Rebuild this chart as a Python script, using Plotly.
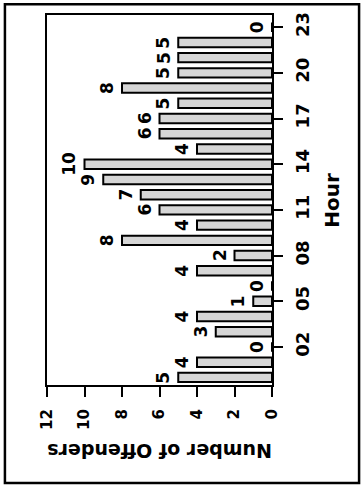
import plotly.graph_objects as go

# Offenders counted per hour of the day
hours = list(range(24))
offenders = [5, 4, 0, 3, 4, 1, 0, 4, 2, 8, 4, 6, 7, 9, 10, 4, 6, 6, 5, 8, 5, 5, 5, 0]

hour_ticks = [2, 5, 8, 11, 14, 17, 20, 23]
hour_tick_text = ["02", "05", "08", "11", "14", "17", "20", "23"]
count_ticks = [0, 2, 4, 6, 8, 10, 12]

FONT = "DejaVu Sans, Verdana, sans-serif"

fig = go.Figure()
fig.add_trace(go.Bar(
    x=offenders,
    y=hours,
    orientation="h",
    width=0.62,
    marker=dict(color="#d6d6d6", line=dict(color="black", width=2)),
    cliponaxis=False,
    showlegend=False,
))

# value labels just past the end of each bar (zero bars included)
value_labels = [
    dict(
        text=str(v),
        xref="x", yref="y",
        x=v, y=h,
        xanchor="right", yanchor="middle",
        xshift=-3,
        showarrow=False,
        textangle=-90,
        font=dict(size=17, family=FONT, color="black", weight="bold"),
    )
    for h, v in zip(hours, offenders)
]

fig.update_layout(
    width=362,
    height=490,
    margin=dict(l=47, r=90, t=12, b=105),
    paper_bgcolor="white",
    plot_bgcolor="white",
    font=dict(family=FONT, color="black"),
    xaxis=dict(
        range=[12, 0],
        tickvals=count_ticks,
        tickangle=-90,
        ticks="outside",
        ticklen=10,
        tickwidth=1.5,
        tickcolor="black",
        ticklabelstandoff=6,
        tickfont=dict(size=15, family=FONT, weight="bold"),
        showline=True,
        linecolor="black",
        linewidth=2,
        mirror=True,
        showgrid=False,
        zeroline=False,
    ),
    yaxis=dict(
        side="right",
        range=[-0.5, 23.8],
        tickvals=hour_ticks,
        ticktext=hour_tick_text,
        tickangle=-90,
        ticks="outside",
        ticklen=9,
        tickwidth=1.5,
        tickcolor="black",
        ticklabelstandoff=4,
        tickfont=dict(size=18, family=FONT, weight="bold"),
        showline=True,
        linecolor="black",
        linewidth=2,
        mirror=True,
        showgrid=False,
        zeroline=False,
    ),
    annotations=value_labels + [
        dict(
            text="Number of Offenders",
            xref="paper", yref="paper",
            x=0.5, y=-0.18,
            xanchor="center", yanchor="middle",
            showarrow=False,
            textangle=180,
            font=dict(size=19, family=FONT, color="black", weight="bold"),
        ),
        dict(
            text="Hour",
            xref="paper", yref="paper",
            x=1.265, y=0.5,
            xanchor="center", yanchor="middle",
            showarrow=False,
            textangle=-90,
            font=dict(size=20, family=FONT, color="black", weight="bold"),
        ),
    ],
    shapes=[
        dict(
            type="rect",
            xref="paper", yref="paper",
            x0=-0.187, x1=1.387, y0=-0.265, y1=1.029,
            line=dict(color="black", width=2.5),
            fillcolor="rgba(0,0,0,0)",
            layer="below",
        ),
    ],
)

fig.write_html("out.html")
